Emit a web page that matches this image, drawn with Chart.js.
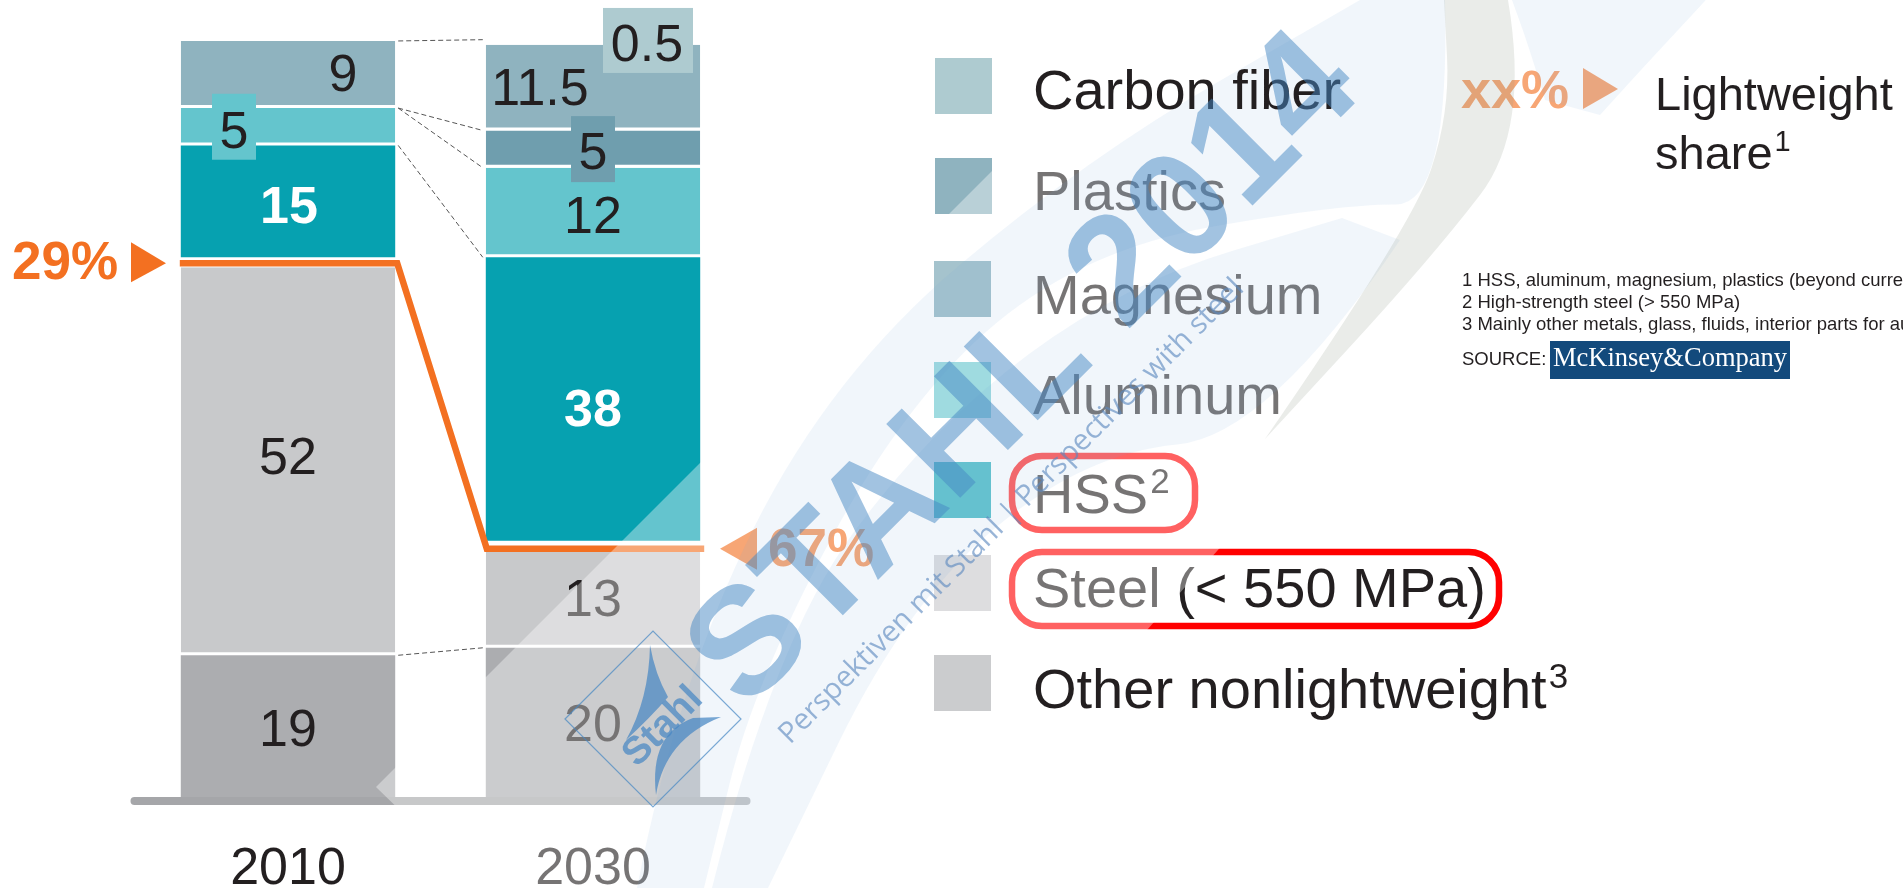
<!DOCTYPE html>
<html><head><meta charset="utf-8">
<style>html,body{margin:0;padding:0;background:#fff;overflow:hidden}canvas{display:block}</style>
<script src="https://cdn.jsdelivr.net/npm/chart.js@4"></script>
</head><body><canvas id="c" width="1903" height="888"></canvas>
<script>
const categories = ['2010','2030'];
const other    = [19,20];
const steel    = [52,13];
const hss      = [15,38];
const aluminum = [5,12];
const magnesium= [0,5];
const plastics = [9,11.5];
const carbon   = [0,0.5];
const lightweightShare = ['29%','67%'];
const seriesNames = ['Carbon fiber','Plastics','Magnesium','Aluminum','HSS^2','Steel (< 550 MPa)','Other nonlightweight^3'];
const legendColors = ['#aecbd0','#8fb3bf','#6f9eae','#64c5cd','#06a1b0','#c8c9cb','#acadb0'];
const footnotes = ['1 HSS, aluminum, magnesium, plastics (beyond current use)','2 High-strength steel (> 550 MPa)','3 Mainly other metals, glass, fluids, interior parts for automobiles'];

const F='"Liberation Sans", Arial, sans-serif';
const DARK='#231f20', ORANGE='#f37021';

function ds(label,data,color,sep){
  return {label,data,backgroundColor:color,borderColor:'#fff',borderWidth:{top:0,left:0,right:0,bottom:sep?3:0},borderSkipped:false,stack:'s',barPercentage:0.703,categoryPercentage:1};
}
const datasets=[
  ds('Other nonlightweight',other,'#acadb0',false),
  ds('Steel',steel,'#c8c9cb',true),
  ds('gap',[1.35,1.35],'rgba(0,0,0,0)',false),
  ds('HSS',hss,'#06a1b0',false),
  ds('Aluminum',aluminum,'#64c5cd',true),
  ds('Magnesium',magnesium,'#6f9eae',true),
  ds('Plastics',plastics,'#8fb3bf',true),
  ds('Carbon fiber',carbon,'rgba(0,0,0,0)',false)
];
const IDX={other:0,steel:1,gap:2,hss:3,alu:4,mag:5,pla:6,car:7};
const legendY=[94,195,299,399,498,592,693], swatchY=[86,186,289,390,490,583,683];

function tri(ctx,pts,fill){ctx.beginPath();ctx.moveTo(pts[0][0],pts[0][1]);pts.slice(1).forEach(p=>ctx.lineTo(p[0],p[1]));ctx.closePath();ctx.fillStyle=fill;ctx.fill();}
function rr(ctx,x,y,w,h,r){ctx.beginPath();ctx.roundRect(x,y,w,h,r);}
function textSup(ctx,txt,x,y,size){
  const p=txt.split('^');
  ctx.font=size+'px '+F;ctx.textAlign='left';ctx.textBaseline='middle';
  ctx.fillText(p[0],x,y);
  if(p[1]){const w=ctx.measureText(p[0]).width;ctx.font=Math.round(size*0.62)+'px '+F;ctx.fillText(p[1],x+w+2,y-size*0.27);}
}

const drawing={
  id:'drawing',
  afterDatasetsDraw(chart){
    const ctx=chart.ctx, y=chart.scales.y;
    const bar=(s,i)=>chart.getDatasetMeta(s).data[i];
    const halfW=bar(0,0).width/2;
    ctx.save();
    // baseline
    ctx.strokeStyle='#a5a6a9';ctx.lineWidth=8;ctx.lineCap='round';
    ctx.beginPath();ctx.moveTo(chart.chartArea.left-1,y.getPixelForValue(0)+4);ctx.lineTo(chart.chartArea.right+1,y.getPixelForValue(0)+4);ctx.stroke();
    // connectors
    ctx.strokeStyle='#555';ctx.lineWidth=1;ctx.lineCap='butt';ctx.setLineDash([5,3]);
    const L0=bar(0,0).x+halfW+3, R1=bar(0,1).x-halfW-3;
    [[bar(IDX.pla,0).y,bar(IDX.pla,1).y-5],
     [bar(IDX.alu,0).y,bar(IDX.mag,1).y],
     [bar(IDX.alu,0).y,bar(IDX.alu,1).y],
     [bar(IDX.hss,0).y,bar(IDX.hss,1).y],
     [bar(IDX.other,0).y,bar(IDX.other,1).y]].forEach(c=>{
      ctx.beginPath();ctx.moveTo(L0,c[0]);ctx.lineTo(R1,c[1]);ctx.stroke();
    });
    ctx.setLineDash([]);
    // lightweight-share line through the gap
    const g0=bar(IDX.gap,0), g1=bar(IDX.gap,1);
    const y0=(g0.y+g0.base)/2+1, y1=(g1.y+g1.base)/2+3;
    ctx.strokeStyle=ORANGE;ctx.lineWidth=6.5;ctx.lineJoin='miter';
    ctx.beginPath();ctx.moveTo(g0.x-halfW-1,y0);ctx.lineTo(g0.x+halfW+2,y0);ctx.lineTo(g1.x-halfW+1,y1);ctx.lineTo(g1.x+halfW+4,y1);ctx.stroke();
    // callouts
    ctx.fillStyle='#64c5cd';const a5=bar(IDX.alu,0);ctx.fillRect(a5.x-76,(a5.y+a5.base)/2-33,44,66);
    ctx.fillStyle='#6f9eae';const m5=bar(IDX.mag,1);ctx.fillRect(m5.x-22,(m5.y+m5.base)/2-33,44,66);
    ctx.fillStyle='#aecbd0';const c5=bar(IDX.car,1);ctx.fillRect(c5.x+10,c5.y-33,90,65);
    // value labels
    const lab=(s,i,dx,dy,col,bold)=>{
      const v=chart.data.datasets[s].data[i]; if(!v) return;
      const b=bar(s,i);
      ctx.font=(bold?'bold ':'')+'52px '+F;ctx.fillStyle=col||DARK;ctx.textAlign='center';ctx.textBaseline='middle';
      ctx.fillText(String(v),b.x+dx,(b.y+b.base)/2+dy);
    };
    lab(IDX.other,0,0,6);lab(IDX.other,1,0,4.5);
    lab(IDX.steel,0,0,-2);lab(IDX.steel,1,0,2);
    lab(IDX.hss,0,1,7,'#fff',true);lab(IDX.hss,1,0,13,'#fff',true);
    lab(IDX.alu,0,-54,7);lab(IDX.alu,1,0,6);
    lab(IDX.mag,1,0,6);
    lab(IDX.pla,0,55,2);lab(IDX.pla,1,-53,3);
    lab(IDX.car,1,54,4);
    // share callouts
    ctx.font='bold 53px '+F;ctx.fillStyle=ORANGE;ctx.textAlign='left';ctx.textBaseline='middle';
    ctx.fillText(lightweightShare[0],12,y0+1);
    tri(ctx,[[131,y0-21],[166,y0],[131,y0+19]],ORANGE);
    ctx.fillText(lightweightShare[1],768,y1+3);
    tri(ctx,[[757,y1-21],[720,y1],[757,y1+21]],ORANGE);
    // legend (first and last names are drawn above the veil, see watermark)
    seriesNames.forEach((n,i)=>{
      ctx.fillStyle=legendColors[i];ctx.fillRect(i<2?935:934,swatchY[i]-28,57,56);
      if(i!==0&&i!==6){ctx.fillStyle=DARK;textSup(ctx,n,1033,legendY[i],56);}
    });
    // highlight rings
    ctx.strokeStyle='#ff0000';ctx.lineWidth=6.5;
    rr(ctx,1012,456,183,74,30);ctx.stroke();
    rr(ctx,1012,552,487,74,30);ctx.stroke();
    // key
    ctx.font='bold 54px '+F;ctx.fillStyle=ORANGE;ctx.textAlign='left';ctx.textBaseline='middle';ctx.fillText('xx%',1461,93);
    tri(ctx,[[1583,68],[1618,89],[1583,109]],ORANGE);
    ctx.fillStyle=DARK;
    // footnotes
    ctx.font='18.5px '+F;ctx.fillStyle=DARK;ctx.textBaseline='middle';
    footnotes.forEach((t,i)=>ctx.fillText(t,1462,281+i*22));
    ctx.fillText('SOURCE:',1462,360);
    ctx.fillStyle='#134a7c';ctx.fillRect(1550,341,240,38);
    ctx.fillStyle='#fff';ctx.font='26.5px "Liberation Serif", serif';ctx.textAlign='center';ctx.fillText('McKinsey&Company',1670,359);
    ctx.restore();
    watermark(ctx);
  }
};

function smoothTo(ctx,pts){
  for(let i=1;i<pts.length-1;i++){
    const mx=(pts[i][0]+pts[i+1][0])/2,my=(pts[i][1]+pts[i+1][1])/2;
    ctx.quadraticCurveTo(pts[i][0],pts[i][1],mx,my);
  }
  const l=pts[pts.length-1];ctx.lineTo(l[0],l[1]);
}
function band(ctx,a,b,fill){
  ctx.beginPath();ctx.moveTo(a[0][0],a[0][1]);smoothTo(ctx,a);
  const r=b.slice().reverse();ctx.lineTo(r[0][0],r[0][1]);smoothTo(ctx,r);
  ctx.closePath();ctx.fillStyle=fill;ctx.fill();
}
function watermark(ctx){
  ctx.save();
  ctx.beginPath();
  ctx.moveTo(376,787);ctx.lineTo(1163,0);ctx.lineTo(1706,0);ctx.lineTo(918,888);ctx.lineTo(480,888);ctx.closePath();
  ctx.fillStyle='rgba(255,255,255,0.38)';ctx.fill();
  ctx.clip();
  const pale='rgba(120,165,215,0.10)', grey='rgba(140,150,135,0.18)';
  band(ctx,[[637,888],[678,679],[831,374],[1086,158],[1360,0]],[[704,888],[755,680],[908,396],[1086,249],[1341,204],[1450,205],[1445,0]],pale);
  band(ctx,[[712,888],[774,640],[933,425],[1125,283],[1342,218]],[[768,888],[908,600],[1086,453],[1268,436],[1400,240]],pale);
  band(ctx,[[1265,439],[1412,226],[1450,113],[1444,0]],[[1265,439],[1430,260],[1530,130],[1508,0]],grey);
  band(ctx,[[1545,100],[1530,50],[1512,0]],[[1600,115],[1650,60],[1706,0]],pale);
  ctx.restore();
  // text that stays dark above the veil
  ctx.save();
  ctx.fillStyle=DARK;
  textSup(ctx,seriesNames[0],1033,legendY[0],56);
  textSup(ctx,seriesNames[6],1033,legendY[6],56);
  textSup(ctx,'Lightweight',1655,97,47);
  textSup(ctx,'share^1',1655,156,47);
  ctx.restore();
  ctx.save();
  ctx.translate(746,712);ctx.rotate(-Math.PI/4);
  ctx.font='bold 152px '+F;ctx.textAlign='left';ctx.textBaseline='alphabetic';
  ctx.fillStyle='rgba(70,135,195,0.50)';ctx.fillText('STAHL 2014',0,0);
  ctx.restore();
  ctx.save();
  ctx.translate(790,745);ctx.rotate(-Math.PI/4);
  ctx.font='29.2px "Open Sans", sans-serif';ctx.textAlign='left';ctx.textBaseline='alphabetic';
  ctx.fillStyle='rgba(90,135,190,0.62)';ctx.fillText('Perspektiven mit Stahl | Perspectives with steel',0,0);
  ctx.restore();
  // logo
  ctx.save();
  ctx.translate(653,719);
  ctx.strokeStyle='rgba(70,135,195,0.7)';ctx.lineWidth=1.2;
  ctx.beginPath();ctx.moveTo(-88,0);ctx.lineTo(0,-88);ctx.lineTo(88,0);ctx.lineTo(0,88);ctx.closePath();ctx.stroke();
  ctx.fillStyle='rgba(70,135,195,0.72)';
  ctx.beginPath();ctx.moveTo(-3,-74);ctx.quadraticCurveTo(-4,-20,-27,21);ctx.quadraticCurveTo(-2,-2,15,-22);ctx.quadraticCurveTo(2,-45,-3,-74);ctx.fill();
  ctx.beginPath();ctx.moveTo(3,76);ctx.quadraticCurveTo(-4,15,40,-1);ctx.lineTo(68,-2);ctx.quadraticCurveTo(12,20,3,76);ctx.closePath();ctx.fill();
  ctx.save();ctx.translate(10,8);ctx.rotate(-Math.PI/4);ctx.font='bold 39px '+F;ctx.textAlign='center';ctx.textBaseline='middle';ctx.fillText('Stahl',0,0);ctx.restore();
  ctx.restore();
}

new Chart(document.getElementById('c'),{
  type:'bar',
  data:{labels:categories,datasets},
  plugins:[drawing],
  options:{
    responsive:false,animation:false,
    layout:{padding:{left:135.5,right:1157.5,top:0,bottom:0}},
    plugins:{legend:{display:false},tooltip:{enabled:false}},
    scales:{
      x:{stacked:true,grid:{display:false},border:{display:false},
         afterFit(s){s.height=91;},
         ticks:{padding:33,color:DARK,font:{size:52,family:'"Liberation Sans"'},maxRotation:0}},
      y:{stacked:true,display:false,min:0,max:106.84}
    }
  }
});
</script></body></html>
